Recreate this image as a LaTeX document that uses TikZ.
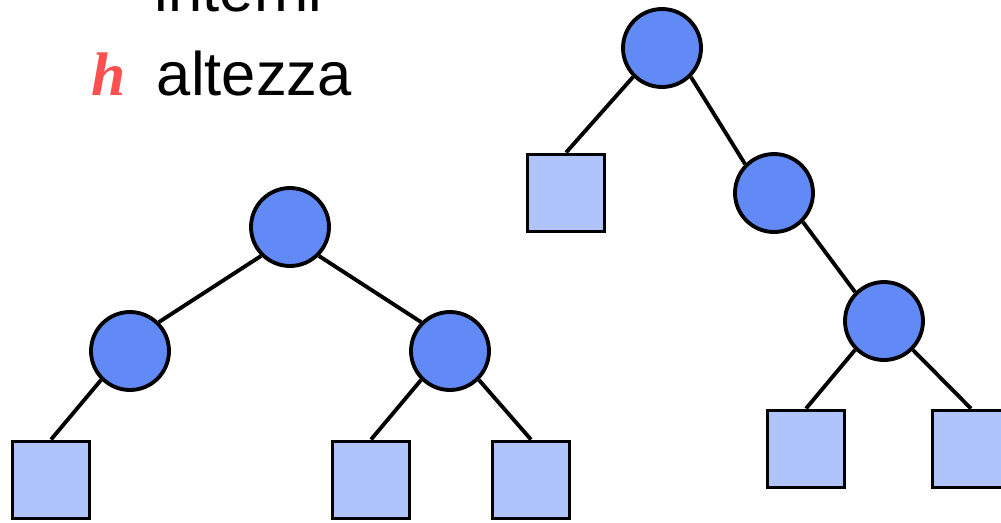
\documentclass[tikz,border=0pt]{standalone}
\definecolor{nodeblue}{RGB}{98,138,247}
\definecolor{leafblue}{RGB}{176,196,252}
\definecolor{hred}{RGB}{255,80,80}
\usepackage{fontspec}
\setmainfont{Liberation Sans}
\newfontfamily\hfont{Liberation Serif}
\usepackage{tikz}
\usetikzlibrary{positioning}

\begin{document}
\begin{tikzpicture}[x=0.02cm, y=-0.02cm, line width=2.2pt,
    intnode/.style={circle, draw, fill=nodeblue, inner sep=0pt, minimum size=1.56cm},
    leafnode/.style={rectangle, draw, fill=leafblue, inner sep=0pt, minimum size=1.54cm},
    legend/.style={anchor=base west, inner sep=0pt, font=\fontsize{35}{42}\selectfont}]
        \useasboundingbox (0,0) rectangle (1001,522);
        % legenda
        \node[legend] (int) at (153,11) {interni};
        \node[legend] (alt) at (155,95) {altezza};
        \node[legend, hred] (h) at (90,95) {\hfont\bfseries\itshape h};
        % albero completo
        \node[intnode] (r) at (290,227) {};
        \node[intnode] (a) at (130,351) {};
        \node[intnode] (b) at (450,351) {};
        \node[leafnode] (a1) at (51,480) {};
        \node[leafnode] (b1) at (371,480) {};
        \node[leafnode] (b2) at (531,480) {};
        \draw (r.south west) -- (a.north east);
        \draw (r.south east) -- (b.north west);
        \draw (a.south west) -- (a1.north);
        \draw (b.south west) -- (b1.north);
        \draw (b.south east) -- (b2.north);
        % albero sbilanciato
        \node[intnode] (p) at (662,48) {};
        \node[intnode] (q) at (774,193) {};
        \node[intnode] (s) at (884,321) {};
        \node[leafnode] (p1) at (566,193) {};
        \node[leafnode] (s1) at (806,449) {};
        \node[leafnode] (s2) at (971,449) {};
        \draw (p.south west) -- (p1.north);
        \draw (p.south east) -- (q.north west);
        \draw (q.south east) -- (s.north west);
        \draw (s.south west) -- (s1.north);
        \draw (s.south east) -- (s2.north);
      \end{tikzpicture}
\end{document}
